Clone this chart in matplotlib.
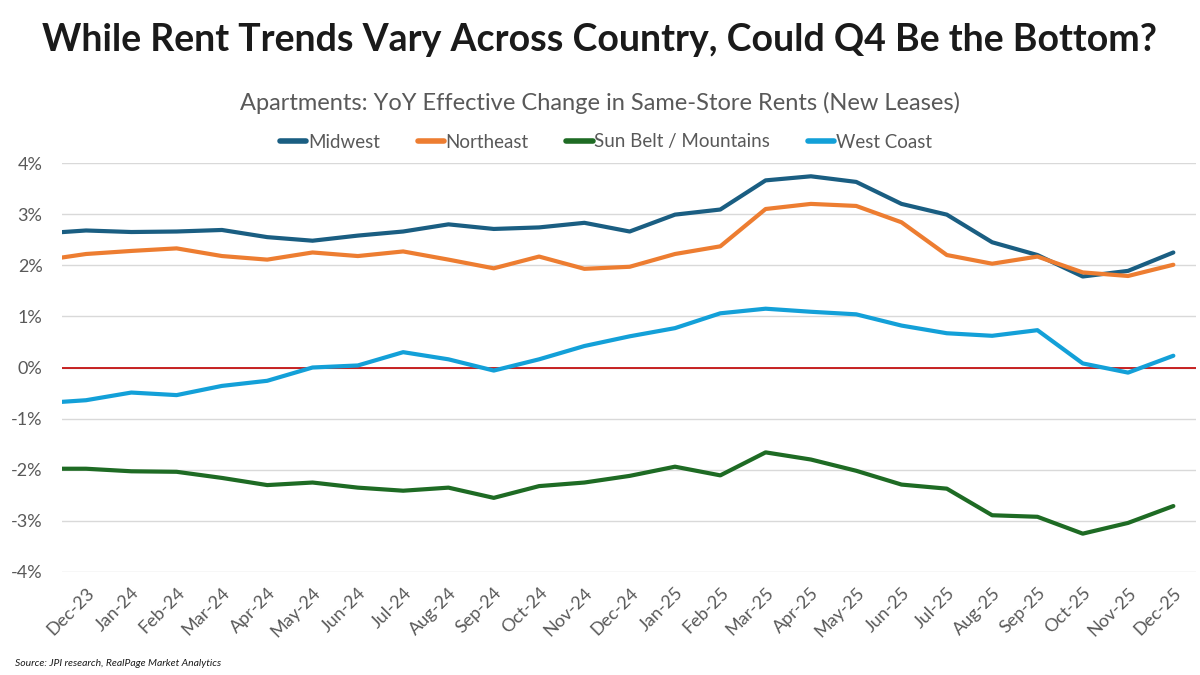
import matplotlib
matplotlib.use("Agg")
import matplotlib.pyplot as plt
from matplotlib.ticker import FuncFormatter

# first entry (Nov-23) only shows as the clipped stub at the left edge
months = ["Nov-23", "Dec-23", "Jan-24", "Feb-24", "Mar-24", "Apr-24", "May-24", "Jun-24",
          "Jul-24", "Aug-24", "Sep-24", "Oct-24", "Nov-24", "Dec-24", "Jan-25",
          "Feb-25", "Mar-25", "Apr-25", "May-25", "Jun-25", "Jul-25", "Aug-25",
          "Sep-25", "Oct-25", "Nov-25", "Dec-25"]

midwest = [2.62, 2.68, 2.65, 2.66, 2.69, 2.55, 2.48, 2.58, 2.66, 2.80, 2.71, 2.74, 2.83,
           2.66, 2.99, 3.09, 3.66, 3.74, 3.63, 3.20, 2.99, 2.45, 2.20, 1.78, 1.89, 2.25]
northeast = [2.09, 2.22, 2.28, 2.33, 2.18, 2.11, 2.25, 2.18, 2.27, 2.11, 1.94, 2.17, 1.93,
             1.97, 2.22, 2.37, 3.10, 3.20, 3.16, 2.84, 2.20, 2.03, 2.17, 1.86, 1.79, 2.01]
sunbelt = [-1.98, -1.98, -2.03, -2.04, -2.16, -2.30, -2.25, -2.35, -2.41, -2.35, -2.55,
           -2.32, -2.25, -2.12, -1.94, -2.11, -1.66, -1.80, -2.02, -2.29, -2.37, -2.89,
           -2.92, -3.25, -3.04, -2.71]
westcoast = [-0.70, -0.64, -0.49, -0.54, -0.36, -0.26, 0.00, 0.04, 0.30, 0.16, -0.06,
             0.16, 0.42, 0.61, 0.77, 1.06, 1.15, 1.09, 1.04, 0.82, 0.67, 0.62, 0.73,
             0.08, -0.10, 0.23]

series = [
    ("Midwest", midwest, "#1A5E82"),
    ("Northeast", northeast, "#ED7D31"),
    ("Sun Belt / Mountains", sunbelt, "#1E6B24"),
    ("West Coast", westcoast, "#13A0D8"),
]

grey = "#595959"

fig = plt.figure(figsize=(12, 6.75), dpi=100)
ax = fig.add_axes([62 / 1200, 1 - 572 / 675, (1196 - 62) / 1200, (572 - 163) / 675])

x = list(range(len(months)))
for name, vals, col in series:
    ax.plot(x, vals, color=col, lw=3, label=name, solid_capstyle="round",
            solid_joinstyle="round", zorder=3)

ax.axhline(0, color="#C00000", lw=1.2, zorder=2)

ax.set_xlim(1 - 0.53, len(months) - 1 + 0.5)
ax.set_ylim(-4, 4)
ax.set_yticks(range(-4, 5))
ax.yaxis.set_major_formatter(FuncFormatter(lambda v, p: f"{v:.0f}%"))
ax.set_xticks(x[1:])
ax.set_xticklabels(months[1:], rotation=45, ha="right", rotation_mode="anchor")
ax.grid(axis="y", color="#D9D9D9", lw=1, zorder=0)
ax.set_axisbelow(True)
for s in ax.spines.values():
    s.set_visible(False)
ax.tick_params(axis="both", length=0, colors=grey)
ax.tick_params(axis="y", labelsize=13, pad=14)
ax.tick_params(axis="x", labelsize=13, pad=9)
for lab in ax.get_xticklabels() + ax.get_yticklabels():
    lab.set_family("Lato")

fig.text(0.5, 1 - 40 / 675, "While Rent Trends Vary Across Country, Could Q4 Be the Bottom?",
         ha="center", va="center", fontsize=27, fontweight="bold", family="Lato",
         color="#1a1a1a")
fig.text(0.5, 1 - 103 / 675, "Apartments: YoY Effective Change in Same-Store Rents (New Leases)",
         ha="center", va="center", fontsize=17, family="Lato", color=grey)

leg = fig.legend(loc="center", bbox_to_anchor=(0.505, 1 - 142 / 675), ncol=4, frameon=False,
                 prop={"family": "Lato", "size": 13.5}, handlelength=1.4, handletextpad=0.1,
                 columnspacing=2.0)
for t in leg.get_texts():
    t.set_color(grey)
for h in leg.get_lines():
    h.set_linewidth(4)

fig.text(15 / 1200, 1 - 663 / 675, "Source: JPI research, RealPage Market Analytics",
         ha="left", va="center", fontsize=7.5, style="italic", family="Lato", color="#1a1a1a")

fig.savefig("out.png", dpi=100)
